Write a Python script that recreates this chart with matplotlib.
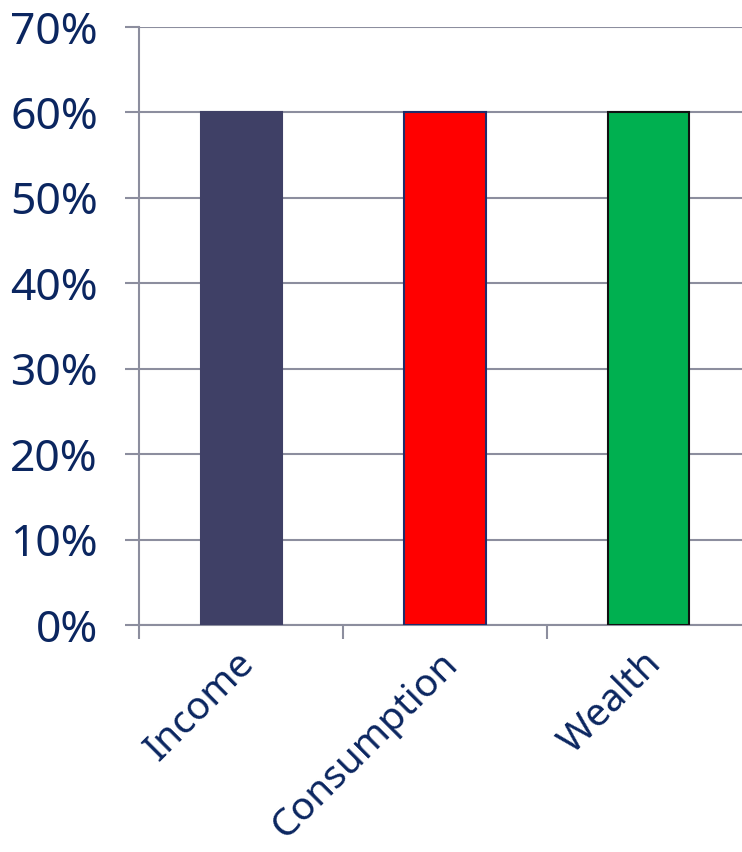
import matplotlib.pyplot as plt
from matplotlib.ticker import FuncFormatter
from matplotlib.transforms import ScaledTranslation

categories = ['Income', 'Consumption', 'Wealth']
values = [60, 60, 60]
bar_colors = ['#3F4066', '#FF0000', '#00B050']
edge_colors = ['#3F4066', '#1F2D6B', '#111111']
y_ticks = [0, 10, 20, 30, 40, 50, 60, 70]

text_color = '#0B2660'
grid_color = '#8C8E9E'

plt.rcParams['font.family'] = ['Noto Sans', 'DejaVu Sans']

fig = plt.figure(figsize=(7.42, 8.52), dpi=100)
ax = fig.add_axes([0.188, 0.2664, 0.812, 0.7019])

x = list(range(len(categories)))
ax.bar(x, values, width=0.4, color=bar_colors, edgecolor=edge_colors,
       linewidth=1.5, zorder=3)

ax.set_yticks(y_ticks)
ax.yaxis.set_major_formatter(FuncFormatter(lambda v, p: f'{v:.0f}%'))
ax.grid(axis='y', color=grid_color, linewidth=1.5, zorder=0)

# category labels in the middle, tick marks between categories
ax.set_xticks(x)
ax.set_xticklabels(categories, rotation=45, ha='right', va='top',
                   rotation_mode='anchor')
ax.set_xticks([-0.5, 0.5, 1.5, 2.5], minor=True)
ax.set_ylim(0, 70)
ax.set_xlim(-0.5, 2.46)

ax.tick_params(axis='x', which='major', length=0, pad=14,
               labelsize=28, labelcolor=text_color)
ax.tick_params(axis='x', which='minor', length=10, width=1.5,
               color=grid_color)
ax.tick_params(axis='y', length=10, width=1.5, color=grid_color,
               pad=20, labelsize=32, labelcolor=text_color)

shift = ScaledTranslation(-6 / 100, 0, fig.dpi_scale_trans)
for lab in ax.get_xticklabels():
    lab.set_transform(lab.get_transform() + shift)

for side in ['top', 'right']:
    ax.spines[side].set_visible(False)
for side in ['left', 'bottom']:
    ax.spines[side].set_color(grid_color)
    ax.spines[side].set_linewidth(1.5)

plt.savefig('out.png', dpi=100)
